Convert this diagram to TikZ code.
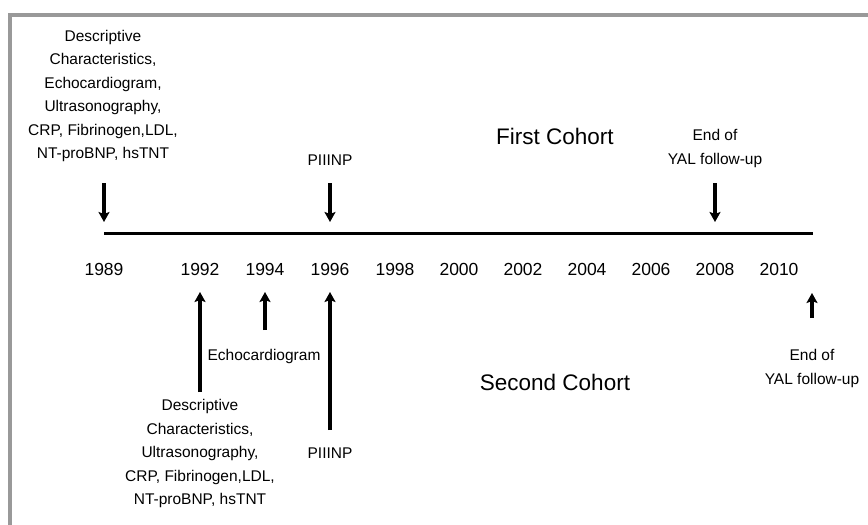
\documentclass[tikz,border=0pt]{standalone}
\usepackage{fontspec}
\setmainfont{Liberation Sans}
\usetikzlibrary{arrows.meta}
\begin{document}
\begin{tikzpicture}[x=1pt,y=-1pt,
  lbl/.style={align=center,font=\fontsize{15.5}{23.5}\selectfont,inner sep=0pt},
  yr/.style={font=\fontsize{17.5}{20}\selectfont,inner sep=0pt},
  cohort/.style={font=\fontsize{22.5}{26}\selectfont,inner sep=0pt},
  arr/.style={line width=3.3pt,-{Stealth[width=11pt,length=10pt,inset=2pt]}},
  tline/.style={line width=3pt},
  frameline/.style={draw=black!40,line width=4pt}]
\useasboundingbox (0,0) rectangle (868,525);
\draw[frameline] (10,525) -- (10,15) -- (868,15);

% top labels
\node[lbl] (topL) at (103,96) {Descriptive\\Characteristics,\\Echocardiogram,\\Ultrasonography,\\CRP, Fibrinogen,LDL,\\NT-proBNP, hsTNT};
\node[lbl] (piiiTop) at (330,160) {PIIINP};
\node[cohort] (firstC) at (555,136) {First Cohort};
\node[lbl] (endTop) at (715,148.5) {End of\\YAL follow-up};

% timeline
\coordinate (tlS) at (104,233);
\coordinate (tlE) at (813,233);
\draw[tline] (tlS) -- (tlE);

% top arrows
\coordinate (a1s) at (104,183); \coordinate (a1e) at (104,222);
\coordinate (a2s) at (330,183); \coordinate (a2e) at (330,222);
\coordinate (a3s) at (715,183); \coordinate (a3e) at (715,222);
\draw[arr] (a1s) -- (a1e);
\draw[arr] (a2s) -- (a2e);
\draw[arr] (a3s) -- (a3e);

% years
\node[yr] (y1989) at (104,269) {1989};
\node[yr] (y1992) at (200,269) {1992};
\node[yr] (y1994) at (265,269) {1994};
\node[yr] (y1996) at (330,269) {1996};
\node[yr] (y1998) at (395,269) {1998};
\node[yr] (y2000) at (459,269) {2000};
\node[yr] (y2002) at (523,269) {2002};
\node[yr] (y2004) at (587,269) {2004};
\node[yr] (y2006) at (651,269) {2006};
\node[yr] (y2008) at (715,269) {2008};
\node[yr] (y2010) at (779,269) {2010};

% bottom arrows
\coordinate (b1s) at (200,392); \coordinate (b1e) at (200,292);
\coordinate (b2s) at (265,330); \coordinate (b2e) at (265,292);
\coordinate (b3s) at (330,430); \coordinate (b3e) at (330,292);
\coordinate (b4s) at (812,318); \coordinate (b4e) at (812,293);
\draw[arr] (b1s) -- (b1e);
\draw[arr] (b2s) -- (b2e);
\draw[arr] (b3s) -- (b3e);
\draw[arr] (b4s) -- (b4e);

% bottom labels
\node[lbl] (echo) at (264,356) {Echocardiogram};
\node[lbl] (botL) at (200,453.5) {Descriptive\\Characteristics,\\Ultrasonography,\\CRP, Fibrinogen,LDL,\\NT-proBNP, hsTNT};
\node[lbl] (piiiBot) at (330,453) {PIIINP};
\node[lbl] (endBot) at (812,368.5) {End of\\YAL follow-up};
\node[cohort] (secondC) at (555,382) {Second Cohort};
\end{tikzpicture}
\end{document}
